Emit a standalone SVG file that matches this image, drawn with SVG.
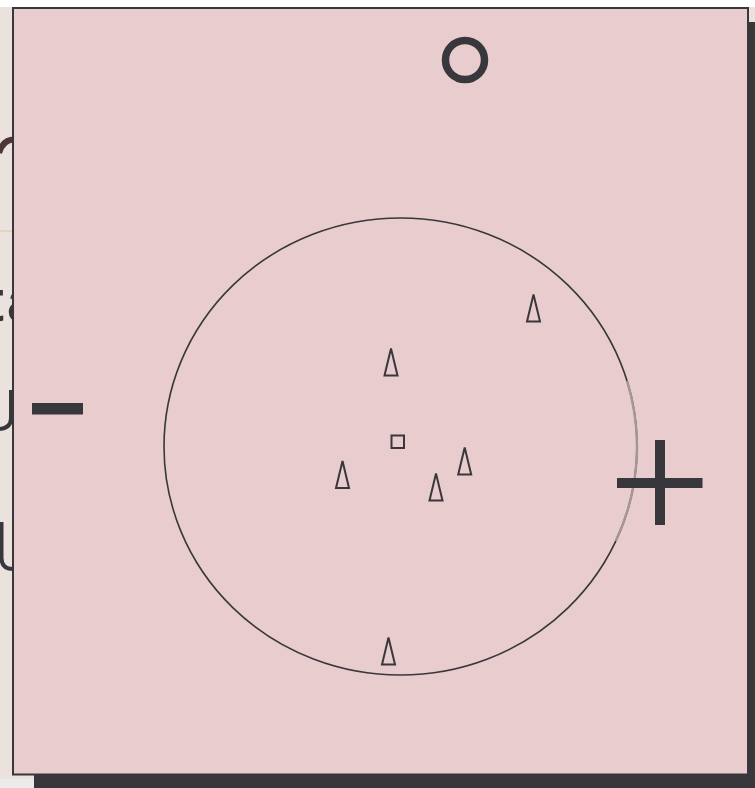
<svg xmlns="http://www.w3.org/2000/svg" width="755" height="788" viewBox="0 0 755 788">
  <style>
    .ink { fill: none; stroke: #38373c; stroke-width: 2; stroke-linejoin: miter; }
    .solid { fill: #38373c; }
    .frag { fill: none; stroke: #38373c; stroke-width: 4; }
  </style>
  <defs>
    <path id="tri" d="M0,0 L6.5,27 L-6.5,27 Z"/>
  </defs>

  <!-- page background -->
  <rect x="0" y="0" width="755" height="788" fill="#ffffff"/>
  <rect x="0" y="779" width="755" height="9" fill="#ebebe9"/>
  <rect x="-10" y="7" width="780" height="772" fill="#ebe1dd"/>

  <!-- fragments of content behind the panel -->
  <g id="background-fragments">
    <path d="M14 139.5 C7 139.5 2 143 -1 153" fill="none" stroke="#4e3537" stroke-width="6"/>
    <line x1="0" y1="231" x2="13" y2="231" stroke="#d6c7a6" stroke-width="1"/>
    <text x="-16" y="321" font-family="Liberation Sans, Arial, sans-serif" font-size="60" font-weight="bold" letter-spacing="3" fill="#38373c">ta</text>
    <path class="frag" d="M11 390 L11 418 Q11 428 0 429"/>
    <path class="frag" d="M1.5 522 L1.5 558 Q1.5 569 13 569"/>
  </g>

  <!-- panel shadow -->
  <rect x="34" y="22" width="740" height="780" fill="#38373c"/>

  <!-- panel -->
  <g id="panel">
    <rect x="13" y="8" width="735" height="766.5" fill="#e9cccd" stroke="#38373c" stroke-width="2"/>
  </g>

  <g id="connectors"/>

  <g id="ring-top">
    <circle cx="465" cy="60" r="19.5" fill="none" stroke="#38373c" stroke-width="7.5"/>
  </g>

  <g id="ellipse">
    <ellipse cx="400.5" cy="446.5" rx="236.5" ry="228.5" fill="none" stroke="#38373c" stroke-width="1.6"/>
    <path d="M627.07 381 A236.5 228.5 0 0 1 615.8 541" fill="none" stroke="#a39598" stroke-width="2.4"/>
  </g>

  <g id="minus">
    <rect class="solid" x="32" y="403" width="51" height="11.5"/>
  </g>

  <g id="plus">
    <rect class="solid" x="617" y="478" width="85.5" height="10"/>
    <rect class="solid" x="655" y="440" width="10" height="85"/>
  </g>

  <g id="square">
    <rect class="ink" x="391.5" y="435.5" width="12.5" height="12.5"/>
  </g>

  <g id="tri-1"><use href="#tri" class="ink" transform="translate(391,348.5)"/></g>
  <g id="tri-2"><use href="#tri" class="ink" transform="translate(342.5,461)"/></g>
  <g id="tri-3"><use href="#tri" class="ink" transform="translate(436,473.5)"/></g>
  <g id="tri-4"><use href="#tri" class="ink" transform="translate(464.7,447.5)"/></g>
  <g id="tri-5"><use href="#tri" class="ink" transform="translate(533.5,294.5)"/></g>
  <g id="tri-6"><use href="#tri" class="ink" transform="translate(388.5,637.5)"/></g>
</svg>
